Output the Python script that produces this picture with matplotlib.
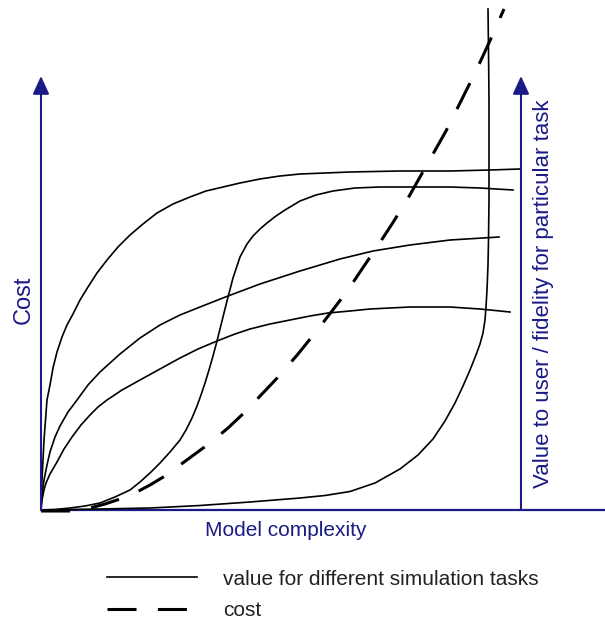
# Concept chart: value of different simulation tasks vs cost, as model complexity grows
import matplotlib
matplotlib.use('Agg')
import matplotlib.pyplot as plt

NAVY = '#1b1b86'

# curves, arbitrary units (x: model complexity 0..480, y: value / cost 0..434)
top_x = [0, 0.5, 1, 2, 3, 4.5, 6, 9, 12, 16, 21, 26, 32, 39, 47, 56, 66, 77, 89, 102, 116,
         132, 149, 165, 182, 199, 219, 239, 259, 309, 359, 409, 449, 479]
top_y = [0, 15, 30, 50, 70, 90, 110, 125, 142, 158, 173, 185, 196, 210, 223, 237, 250, 263, 275, 286, 297,
         306, 313, 319, 323, 327, 331, 334, 336, 338, 339, 339, 340, 341]

sigmoid_x = [0, 14, 29, 44, 59, 74, 89, 99, 109, 119, 129, 139, 145, 151, 156, 160, 164, 168, 172, 176,
             181, 186, 192, 199, 206, 212, 219, 226, 235, 244, 259, 275, 292, 314, 339, 379, 409, 439, 472]
sigmoid_y = [0, 0.5, 2, 4, 7, 13, 20, 28, 37, 47, 58, 70, 80, 92, 104, 115, 127, 140, 154, 169,
             189, 209, 232, 253, 266, 274, 281, 287, 294, 300, 309, 315, 319, 322, 323, 323, 323, 322, 320]

mid_x = [0, 1, 3, 6, 9, 14, 19, 27, 36, 47, 59, 79, 99, 119, 139, 159, 187, 219, 259, 299, 332, 369, 409, 458]
mid_y = [0, 15, 30, 45, 58, 73, 84, 98, 110, 125, 138, 156, 172, 185, 195, 203, 214, 226, 239, 251, 259, 265, 270, 273]

low_x = [0, 1, 3, 5, 9, 16, 23, 31, 40, 49, 57, 66, 81, 99, 119, 139, 157, 176, 194, 209, 229, 249,
         269, 287, 309, 329, 369, 409, 439, 469]
low_y = [0, 10, 20, 27, 36, 48, 61, 73, 85, 95, 103, 110, 120, 130, 141, 152, 161, 169, 176, 181, 186, 190,
         194, 197, 199, 201, 203, 203, 201, 198]

late_x = [0, 59, 109, 159, 209, 259, 284, 309, 334, 359, 377, 392, 404, 414, 422, 429, 435, 439, 442, 444,
          445, 446, 447, 447.5, 448, 448, 448, 447.5, 447]
late_y = [0, 1, 2, 4.5, 8, 12, 14.5, 18.5, 27, 41, 55, 71, 89, 107, 124, 140, 155, 166, 177, 190,
          203, 220, 245, 270, 310, 360, 410, 460, 501]

cost_x = [0, 29, 49, 64, 79, 94, 109, 124, 139, 154, 169, 187, 204, 221, 239, 257, 274, 291, 307, 321,
          336, 351, 366, 379, 392, 405, 417, 429, 441, 452, 463]
cost_y = [-1, -1, 2, 6, 11, 17, 25, 34, 45, 56, 67, 82, 98, 116, 135, 156, 177, 199, 220, 241,
          263, 286, 310, 333, 356, 379, 403, 427, 452, 476, 501]

LEGEND_LABELS = ['value for different simulation tasks', 'cost']


def main():
    plt.rcParams['font.family'] = ['Liberation Sans', 'DejaVu Sans']
    fig = plt.figure(figsize=(6.05, 6.21), dpi=100)
    ax = fig.add_axes([0, 0, 1, 1])
    # one unit = one pixel, origin at (41, 510) px of the canvas
    ax.set_xlim(-41, 564)
    ax.set_ylim(-111, 510)
    ax.axis('off')

    # axis lines with arrow heads
    arrow = dict(arrowstyle='-|>,head_length=0.55,head_width=0.25', color=NAVY, lw=1.5,
                 mutation_scale=20, shrinkA=0, shrinkB=0)
    ax.annotate('', xy=(0, 434), xytext=(0, 0), arrowprops=arrow)
    ax.annotate('', xy=(480, 434), xytext=(480, 0), arrowprops=arrow)
    ax.plot([0, 564], [0, 0], color=NAVY, lw=1.6, solid_capstyle='butt')

    kw = dict(color='black', lw=1.2)
    solid = None
    for xs, ys in [(top_x, top_y), (sigmoid_x, sigmoid_y), (mid_x, mid_y),
                   (low_x, low_y), (late_x, late_y)]:
        solid, = ax.plot(xs, ys, **kw)
    dashed, = ax.plot(cost_x, cost_y, color='black', lw=2.2, dashes=(9.5, 7))

    ax.text(-17, 210, 'Cost', rotation=90, ha='center', va='center', color=NAVY, fontsize=17)
    ax.text(503, 216, 'Value to user / fidelity for particular task', rotation=90,
            ha='center', va='center', color=NAVY, fontsize=16)
    ax.text(245, -20, 'Model complexity', ha='center', va='center', color=NAVY, fontsize=15)

    fig.legend([solid, dashed], LEGEND_LABELS, loc='center left',
               bbox_to_anchor=(107 / 605, 1 - 595 / 621), frameon=False, fontsize=15,
               handlelength=4.3, handletextpad=1.25, labelspacing=0.6,
               borderpad=0, borderaxespad=0, labelcolor='#222222')

    fig.savefig('out.png', dpi=100)
    plt.close(fig)


if __name__ == '__main__':
    main()
